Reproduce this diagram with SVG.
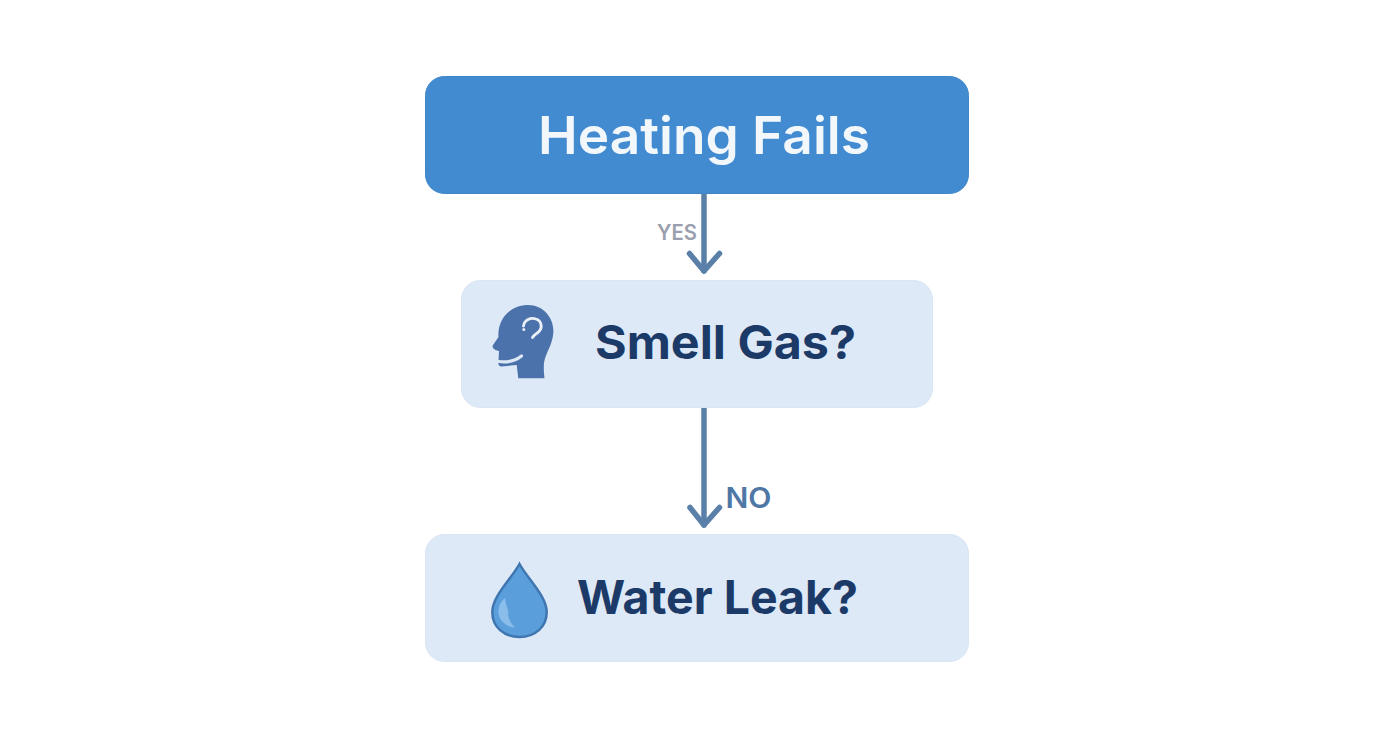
<svg xmlns="http://www.w3.org/2000/svg" width="1392" height="752" viewBox="0 0 1392 752">
<style>
.t{font-family:"Inter","Noto Sans","Liberation Sans",sans-serif;text-anchor:middle}
.h{font-size:52px;font-weight:600;fill:#f2f7fc}
.n{font-size:47px;font-weight:700;fill:#1c3a68}
.light{fill:#dee9f7;stroke:#d9e5f4;stroke-width:1}
.c{fill:none;stroke:#5a7fa8;stroke-width:5.5;stroke-linecap:round;stroke-linejoin:round}
</style>
<rect width="1392" height="752" fill="#ffffff"/>
<g id="connectors">
<path class="c" d="M704 194V271"/>
<path class="c" d="M689.500 253.500L704 271L719.500 253.500"/>
<path class="c" d="M704 409V525"/>
<path class="c" d="M690 507.500L704 525L719.500 507.500"/>
<text id="yes" class="t" x="677" y="240" font-size="21" font-weight="600" fill="#9a9eae" textLength="40" lengthAdjust="spacingAndGlyphs">YES</text>
<text id="no" class="t" x="748.500" y="508" font-size="28" font-weight="600" fill="#4f77a6" textLength="46" lengthAdjust="spacingAndGlyphs">NO</text>
</g>
<g id="heating">
<rect x="425.500" y="76.500" width="543" height="117" rx="19" fill="#428bd0" stroke="#3f86c9"/>
<text class="t h" x="704" y="154" textLength="332" lengthAdjust="spacingAndGlyphs">Heating Fails</text>
</g>
<g id="gas">
<rect class="light" x="461.500" y="280.500" width="471" height="127" rx="19"/>
<path d="M518.300 378.300L516.700 365L501.500 366.500C499 366.500 497.500 363.500 498.500 361.500L499 351C495 350.500 492 348.500 492.700 345.500L498.500 337C497 322 508 305.500 527 305C544 304.500 554.500 319 553.300 333C552.500 345 545.500 353 544 363C543.500 369 544 373 544.500 378.300Z" fill="#4b72aa"/>
<path d="M498.500 361.500Q512 363.500 521.500 356" fill="none" stroke="#dee9f7" stroke-width="3.200" stroke-linecap="round"/>
<path d="M523.500 326C524 320 531 317 536 319C542 321 542.500 328 539 331.500C536.500 334 534 335 532.500 337.500" fill="none" stroke="#eaf1f9" stroke-width="2.800" stroke-linecap="round"/>
<circle cx="523.800" cy="329.500" r="1.500" fill="#eaf1f9"/>
<text class="t n" x="725.500" y="359" textLength="261" lengthAdjust="spacingAndGlyphs">Smell Gas?</text>
</g>
<g id="leak">
<rect class="light" x="425.500" y="534.500" width="543" height="127" rx="19"/>
<path d="M519.500 564C512 578 492.300 596 492.300 612C492.300 627 504 637 519.500 637C535 637 546.700 627 546.700 612C546.700 596 527 578 519.500 564Z" fill="#5a9fdc" stroke="#3f76b0" stroke-width="2.500"/>
<path d="M505 598C500 602 498 608 498.500 613C499 620 505 626 515 628C510 622 507 616 508.500 612C507 607 505.500 603 505 598Z" fill="#8abdea"/>
<text class="t n" x="717.500" y="614" textLength="281" lengthAdjust="spacingAndGlyphs">Water Leak?</text>
</g>
</svg>
